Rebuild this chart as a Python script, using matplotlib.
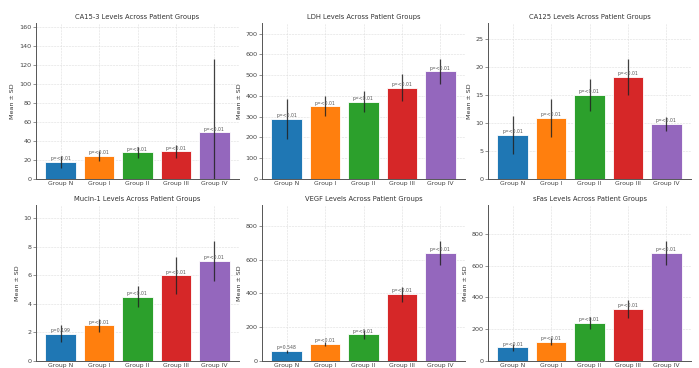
import numpy as np
import matplotlib
matplotlib.use("Agg")
import matplotlib.pyplot as plt

# groups and colours
groups = ["Group N", "Group I", "Group II", "Group III", "Group IV"]
colors = ["#1f77b4", "#ff7f0e", "#2ca02c", "#d62728", "#9467bd"]

# marker values (mean, sd, p-value label)
ca153_mean = [18, 24, 28, 29, 49]
ca153_sd = [6, 5, 6, 7, 77]
ca153_p = ["<0.01", "<0.01", "<0.01", "<0.01", "<0.01"]

ldh_mean = [290, 350, 372, 440, 518]
ldh_sd = [95, 48, 50, 65, 60]
ldh_p = ["<0.01", "<0.01", "<0.01", "<0.01", "<0.01"]

ca125_mean = [7.9, 10.9, 15.0, 18.2, 9.8]
ca125_sd = [3.4, 3.4, 2.8, 3.2, 1.2]
ca125_p = ["<0.01", "<0.01", "<0.01", "<0.01", "<0.01"]

mucin_mean = [1.9, 2.5, 4.5, 6.0, 7.0]
mucin_sd = [0.6, 0.45, 0.75, 1.3, 1.4]
mucin_p = ["0.199", "<0.01", "<0.01", "<0.01", "<0.01"]

vegf_mean = [58, 100, 158, 395, 640]
vegf_sd = [8, 10, 25, 45, 70]
vegf_p = ["0.548", "<0.01", "<0.01", "<0.01", "<0.01"]

sfas_mean = [85, 120, 240, 328, 680]
sfas_sd = [20, 22, 40, 55, 75]
sfas_p = ["<0.01", "<0.01", "<0.01", "<0.01", "<0.01"]

panels = [
    ("CA15-3", ca153_mean, ca153_sd, ca153_p),
    ("LDH", ldh_mean, ldh_sd, ldh_p),
    ("CA125", ca125_mean, ca125_sd, ca125_p),
    ("Mucin-1", mucin_mean, mucin_sd, mucin_p),
    ("VEGF", vegf_mean, vegf_sd, vegf_p),
    ("sFas", sfas_mean, sfas_sd, sfas_p),
]

fig, axes = plt.subplots(2, 3, figsize=(6.99, 3.68), dpi=100)
plt.subplots_adjust(left=0.0515, right=0.9886, top=0.9375, bottom=0.019,
                    wspace=0.113, hspace=0.167)

for ax, (name, mean, sd, p) in zip(axes.flat, panels):
    x = np.arange(len(groups))
    ax.bar(x, mean, yerr=sd, color=colors, edgecolor="white", linewidth=0.6,
           error_kw=dict(ecolor="#222222", elinewidth=0.9, alpha=0.85), zorder=2)
    top = max(np.array(mean) + np.array(sd)) * 1.3
    ax.set_ylim(0, top)
    for xi, m, pv in zip(x, mean, p):
        ax.text(xi, m + top * 0.005, f"p={pv}", ha="center", va="bottom",
                fontsize=3.3, color="#555555", zorder=3)
    ax.set_xticks(x)
    ax.set_xticklabels(groups, fontsize=4.4, color="#444444")
    ax.tick_params(axis="y", labelsize=4.6, labelcolor="#444444", length=2,
                   width=0.5, color="#666666", pad=1)
    ax.tick_params(axis="x", length=0, pad=1.5)
    ax.set_title(f"{name} Levels Across Patient Groups", fontsize=4.9,
                 color="#333333", pad=3)
    ax.set_ylabel("Mean ± SD", fontsize=4.6, color="#333333", labelpad=3)
    ax.grid(True, linestyle="--", linewidth=0.4, color="#dddddd", zorder=0)
    ax.set_axisbelow(True)
    for s in ["top", "right"]:
        ax.spines[s].set_visible(False)
    for s in ["left", "bottom"]:
        ax.spines[s].set_color("#555555")
        ax.spines[s].set_linewidth(0.7)

plt.savefig("out.png", dpi=100)
